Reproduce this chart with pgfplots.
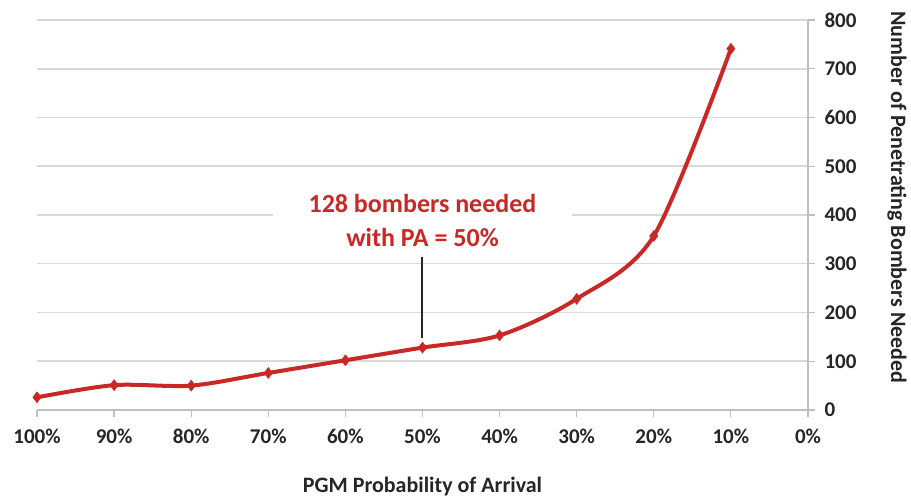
\documentclass[border=0pt]{standalone}
\usepackage{fontspec}
\setmainfont{Carlito}
\usepackage{pgfplots}
\pgfplotsset{compat=1.18}
\definecolor{lred}{RGB}{200,40,38}
\definecolor{gridgray}{RGB}{217,217,217}
\definecolor{axgray}{RGB}{191,191,191}
\begin{document}
\begin{tikzpicture}[x=1pt,y=1pt]
\begin{axis}[
  at={(0,0)}, anchor=south west,
  scale only axis, width=771pt, height=390pt,
  xmin=0, xmax=100, x dir=reverse,
  ymin=0, ymax=800,
  axis x line*=bottom, axis y line*=right,
  axis line style={axgray, line width=1.2pt},
  xtick={0,10,...,100}, ytick={0,100,...,800},
  xticklabel={\pgfmathprintnumber{\tick}\%},
  tick align=outside, major tick length=7pt,
  tick style={axgray, line width=1.2pt},
  ymajorgrids, grid style={gridgray, line width=1.5pt},
  /pgf/number format/assume math mode=true,
  ticklabel style={font=\bfseries\fontsize{21}{24}\selectfont, text=black!85},
  xticklabel style={yshift=-8pt},
  yticklabel style={xshift=6pt},
  clip=false,
]
\addplot[lred, line width=4pt, smooth, tension=0.5, mark=diamond*, mark size=5.5pt, mark options={fill=lred, line width=0.5pt}]
coordinates {
(100,26) (90,51) (80,50) (70,76) (60,102) (50,128) (40,153) (30,228) (20,357) (10,741)
};
\node[fill=white, inner xsep=36pt, inner ysep=3pt, text=lred, align=center,
  font=\bfseries\fontsize{26}{34}\selectfont] at (axis cs:50,388) {128 bombers needed\\with PA = 50\%};
\draw[black!85, line width=2pt] (axis cs:50,314) -- (axis cs:50,147);
\node[font=\bfseries\fontsize{22}{26}\selectfont, text=black!85] at (rel axis cs:0.5,-0.197) {PGM Probability of Arrival};
\node[font=\bfseries\fontsize{22}{26}\selectfont, text=black!85, rotate=-90] at (rel axis cs:1.1154,0.545) {Number of Penetrating Bombers Needed};
\end{axis}
\path[use as bounding box] (-37pt,-88pt) rectangle (874pt,410pt);
\end{tikzpicture}
\end{document}
